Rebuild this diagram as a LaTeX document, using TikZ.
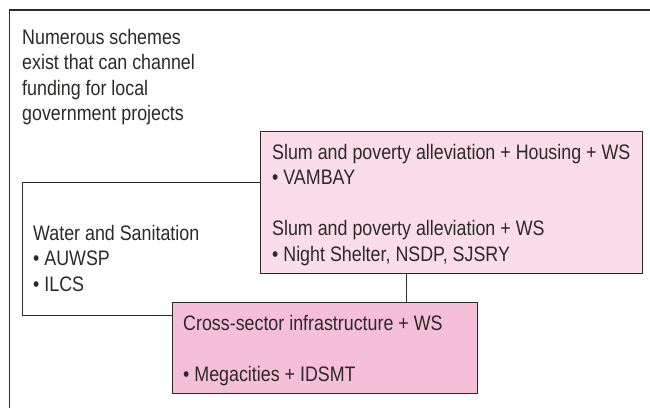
\documentclass[tikz,border=0pt]{standalone}
\usepackage{fontspec}
\setmainfont[FakeStretch=0.85]{Liberation Sans}
\usepackage{tikz}
\usetikzlibrary{positioning}

\definecolor{inkgray}{HTML}{2B2A29}
\definecolor{pinklight}{HTML}{FBDDE9}
\definecolor{pinkmid}{HTML}{F5BFD8}

\begin{document}
\begin{tikzpicture}[
  x=1pt, y=-1pt,
  every node/.style={font=\fontsize{21}{25.5}\selectfont, text=inkgray},
  panel/.style={
    rectangle, draw=inkgray, line width=1.2pt,
    inner sep=0pt, anchor=north west
  },
  txt/.style={align=left, inner sep=0pt}
]
\useasboundingbox (0,0) rectangle (650,408);

% outer frame, open to the right and below
\draw[inkgray, line width=1.4pt] (9.5,408) -- (9.5,10) -- (650,10);

% Intro
\node[txt, anchor=north west] (intro) at (22,29) {%
  Numerous schemes\\
  exist that can channel\\
  funding for local\\
  government projects
};

% Boxes (water box lies under the two pink ones)
\node[panel, minimum width=384pt, minimum height=133pt] (wsbox) at (22,182) {};
\node[panel, fill=pinklight, minimum width=382pt, minimum height=142pt] (slumbox) at (260,131) {};
\node[panel, fill=pinkmid, minimum width=305pt, minimum height=91pt] (crossbox) at (172,302) {};

% Box texts
\node[txt, below right=43pt and 11pt of wsbox.north west] (wstext) {%
  Water and Sanitation\\
  • AUWSP\\
  • ILCS
};
\node[txt, below right=13pt and 12pt of slumbox.north west] (slumtext) {%
  Slum and poverty alleviation + Housing + WS\\
  • VAMBAY\\[25.5pt]
  Slum and poverty alleviation + WS\\
  • Night Shelter, NSDP, SJSRY
};
\node[txt, below right=13.5pt and 11pt of crossbox.north west] (crosstext) {%
  Cross-sector infrastructure + WS\\[25.5pt]
  • Megacities + IDSMT
};
\end{tikzpicture}
\end{document}
